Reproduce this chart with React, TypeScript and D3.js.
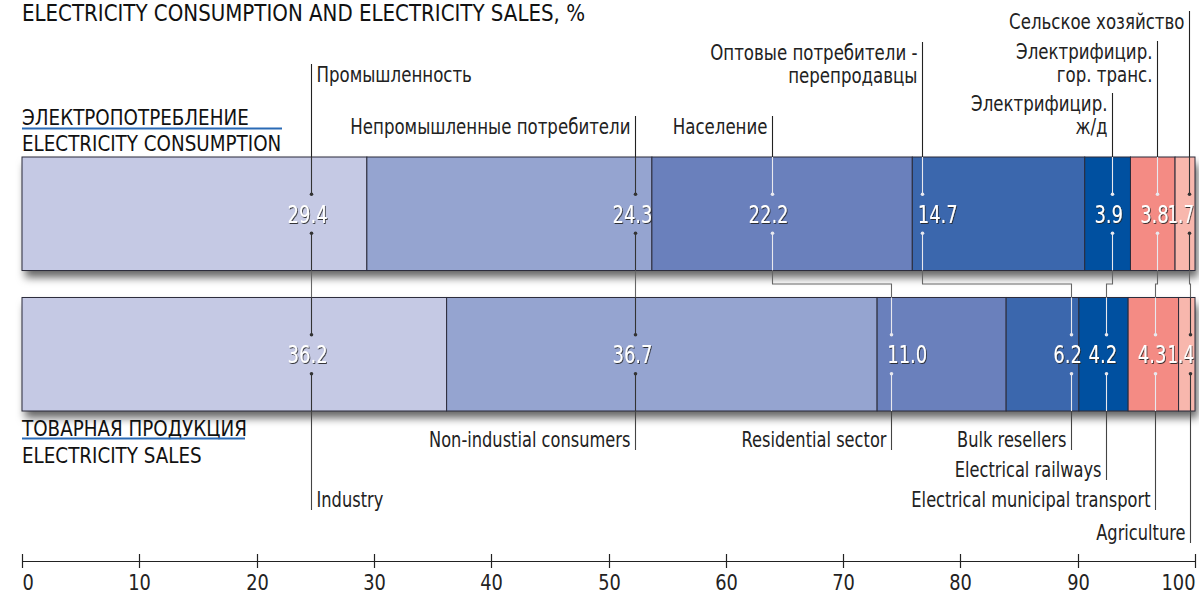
import React from 'react';
import * as d3 from 'd3';

// data
const categories = ['industry', 'nonind', 'resid', 'bulk', 'rail', 'municipal', 'agri'];
const consumption = [29.4, 24.3, 22.2, 14.7, 3.9, 3.8, 1.7];
const sales = [36.2, 36.7, 11.0, 6.2, 4.2, 4.3, 1.4];
const ruLabels = [
  ['Промышленность'],
  ['Непромышленные потребители'],
  ['Население'],
  ['Оптовые потребители -', 'перепродавцы'],
  ['Электрифицир.', 'ж/д'],
  ['Электрифицир.', 'гор. транс.'],
  ['Сельское хозяйство'],
];
const enLabels = [
  'Industry',
  'Non-industial consumers',
  'Residential sector',
  'Bulk resellers',
  'Electrical railways',
  'Electrical municipal transport',
  'Agriculture',
];
const axisTicks = [0, 10, 20, 30, 40, 50, 60, 70, 80, 90, 100];

// styling / layout
const colors = ['#c5c9e4', '#95a4d0', '#6a80bc', '#3b67ad', '#0050a0', '#f48b84', '#f8b7ad'];
const darkInside = [false, false, true, true, true, true, false];
// leader x positions (axis units)
const leaderTop = [24.6, 52.3, 63.9, 76.7, 92.9, 96.8, 99.5];
const leaderBottom = [24.6, 52.3, 74.1, 89.4, 92.4, 96.6, 99.6];
const ruY = [75, 127, 127, 53, 104, 52, 22];
const enY = [500, 440, 440, 440, 470, 500, 533];
const ruSide = ['start', 'end', 'end', 'end', 'end', 'end', 'end'];
const enSide = ['start', 'end', 'end', 'end', 'end', 'end', 'end'];

const W = 1199;
const H = 596;
const FONT = '"DejaVu Sans Condensed", "DejaVu Sans", sans-serif';

const x = d3.scaleLinear().domain([0, 100]).range([22, 1195]);
const y = d3.scaleBand<string>().domain(['consumption', 'sales']).range([157, 411]).paddingInner(0.192);

const stackRow = (vals: number[]) => {
  let acc = 0;
  return vals.map((v) => {
    const s = acc;
    acc += v;
    return { x0: s, x1: acc, v };
  });
};

// narrow text: the original face is a condensed grotesque
const NText = ({ x, y, sx = 0.87, size = 21, anchor = 'start', fill = '#222', filter, children }: any) => (
  <text transform={`translate(${x},${y}) scale(${sx},1)`} textAnchor={anchor} fontSize={size}
    fill={fill} stroke="none" filter={filter}>{children}</text>
);

const App = () => {
  const rows = [
    { key: 'consumption', segs: stackRow(consumption), leaders: leaderTop },
    { key: 'sales', segs: stackRow(sales), leaders: leaderBottom },
  ];
  const bw = y.bandwidth();
  const yTop = y('consumption')!;
  const yBot = y('sales')!;
  const elbowY = (yTop + bw + yBot) / 2;
  const dotOff = 19.5;

  return (
    <svg width={W} height={H} style={{ position: 'absolute', left: 0, top: 0, background: '#fff' }}
      fontFamily={FONT}>
      <defs>
        <filter id="barShadow" x="-5%" y="-20%" width="115%" height="160%">
          <feDropShadow dx="3" dy="7" stdDeviation="4" floodColor="#000" floodOpacity="0.6" />
        </filter>
        <filter id="txtShadow" x="-20%" y="-20%" width="140%" height="140%">
          <feDropShadow dx="1" dy="1" stdDeviation="0.6" floodColor="#222" floodOpacity="0.9" />
        </filter>
      </defs>

      <NText x={22} y={21} size={22.5} sx={0.98} fill="#111">ELECTRICITY CONSUMPTION AND ELECTRICITY SALES, %</NText>

      {/* row titles */}
      <NText x={22} y={125} sx={0.97} fill="#111">ЭЛЕКТРОПОТРЕБЛЕНИЕ</NText>
      <line x1={22} x2={282} y1={128.5} y2={128.5} stroke="#2a6ab5" strokeWidth={2} />
      <NText x={22} y={151} sx={0.97} fill="#111">ELECTRICITY CONSUMPTION</NText>
      <NText x={22} y={436} sx={0.97} fill="#111">ТОВАРНАЯ ПРОДУКЦИЯ</NText>
      <line x1={22} x2={245} y1={438.5} y2={438.5} stroke="#2a6ab5" strokeWidth={2} />
      <NText x={22} y={463} sx={0.97} fill="#111">ELECTRICITY SALES</NText>

      {/* bars */}
      {rows.map((r) => {
        const y0 = y(r.key)!;
        return (
          <g key={r.key}>
            <rect x={x(0)} y={y0} width={x(100) - x(0)} height={bw} fill="#fff" filter="url(#barShadow)" />
            {r.segs.map((s, i) => (
              <rect key={categories[i]} x={x(s.x0)} y={y0} width={x(s.x1) - x(s.x0)} height={bw}
                fill={colors[i]} stroke="#2b2b3a" strokeWidth={1} />
            ))}
          </g>
        );
      })}

      {/* leaders */}
      {categories.map((c, i) => {
        const xt = Math.round(x(leaderTop[i])) + 0.5;
        const xb = Math.round(x(leaderBottom[i])) + 0.5;
        const inCol = darkInside[i] ? '#e8e8ee' : '#333';
        const cT = yTop + bw / 2;
        const cB = yBot + bw / 2;
        const topStart = ruY[i] - 11;
        const botEnd = enY[i] + 10;
        return (
          <g key={c} fill="none" strokeWidth={1.1}>
            <line x1={xt} x2={xt} y1={topStart} y2={yTop} stroke="#222" />
            <line x1={xt} x2={xt} y1={yTop} y2={cT - dotOff} stroke={inCol} />
            <line x1={xt} x2={xt} y1={cT + dotOff} y2={yTop + bw} stroke={inCol} />
            <path d={`M${xt},${yTop + bw}V${elbowY}H${xb}V${yBot}`} stroke="#666" />
            <line x1={xb} x2={xb} y1={yBot} y2={cB - dotOff} stroke={inCol} />
            <line x1={xb} x2={xb} y1={cB + dotOff} y2={yBot + bw} stroke={inCol} />
            <line x1={xb} x2={xb} y1={yBot + bw} y2={botEnd} stroke="#444" />
            {[cT - dotOff, cT + dotOff].map((d) => (
              <circle key={'t' + d} cx={xt} cy={d} r={1.8} fill={inCol} stroke="none" />
            ))}
            {[cB - dotOff, cB + dotOff].map((d) => (
              <circle key={'b' + d} cx={xb} cy={d} r={1.8} fill={inCol} stroke="none" />
            ))}
            {ruLabels[i].map((t, k) => (
              <NText key={t + k} x={ruSide[i] === 'start' ? xt + 5 : xt - 5} y={ruY[i] + 7 + k * 23}
                anchor={ruSide[i]} sx={0.88}>{t}</NText>
            ))}
            <NText x={enSide[i] === 'start' ? xb + 5 : xb - 5} y={enY[i] + 7}
              anchor={enSide[i]} sx={0.86}>{enLabels[i]}</NText>
          </g>
        );
      })}

      {/* value labels */}
      {rows.map((r) => {
        const cy = y(r.key)! + bw / 2;
        return r.segs.map((s, i) => {
          const lx = x(r.leaders[i]);
          const last = i === r.segs.length - 1;
          const startAnch = (r.key === 'consumption' && i === 3) || (r.key === 'sales' && i === 2);
          const anchor = last ? 'end' : startAnch ? 'start' : 'middle';
          const tx = last ? x(100) - 1 : startAnch ? lx - 4 : lx - 3;
          return (
            <NText key={r.key + i} x={tx} y={cy + 9} size={25} sx={last ? 0.74 : 0.8}
              anchor={anchor} fill="#fff" filter="url(#txtShadow)">
              {s.v.toFixed(1)}
            </NText>
          );
        });
      })}

      {/* axis */}
      <g>
        <line x1={x(0)} x2={x(100)} y1={561.5} y2={561.5} stroke="#222" strokeWidth={1.2} />
        {axisTicks.map((t, i) => (
          <g key={t} transform={`translate(${Math.round(x(t)) + 0.5},0)`}>
            <line y1={554} y2={568} stroke="#222" strokeWidth={1.2} />
            <NText x={0} y={590} size={22} sx={0.9}
              anchor={i === 0 ? 'start' : i === axisTicks.length - 1 ? 'end' : 'middle'}>{t}</NText>
          </g>
        ))}
      </g>
    </svg>
  );
};

export default App;
